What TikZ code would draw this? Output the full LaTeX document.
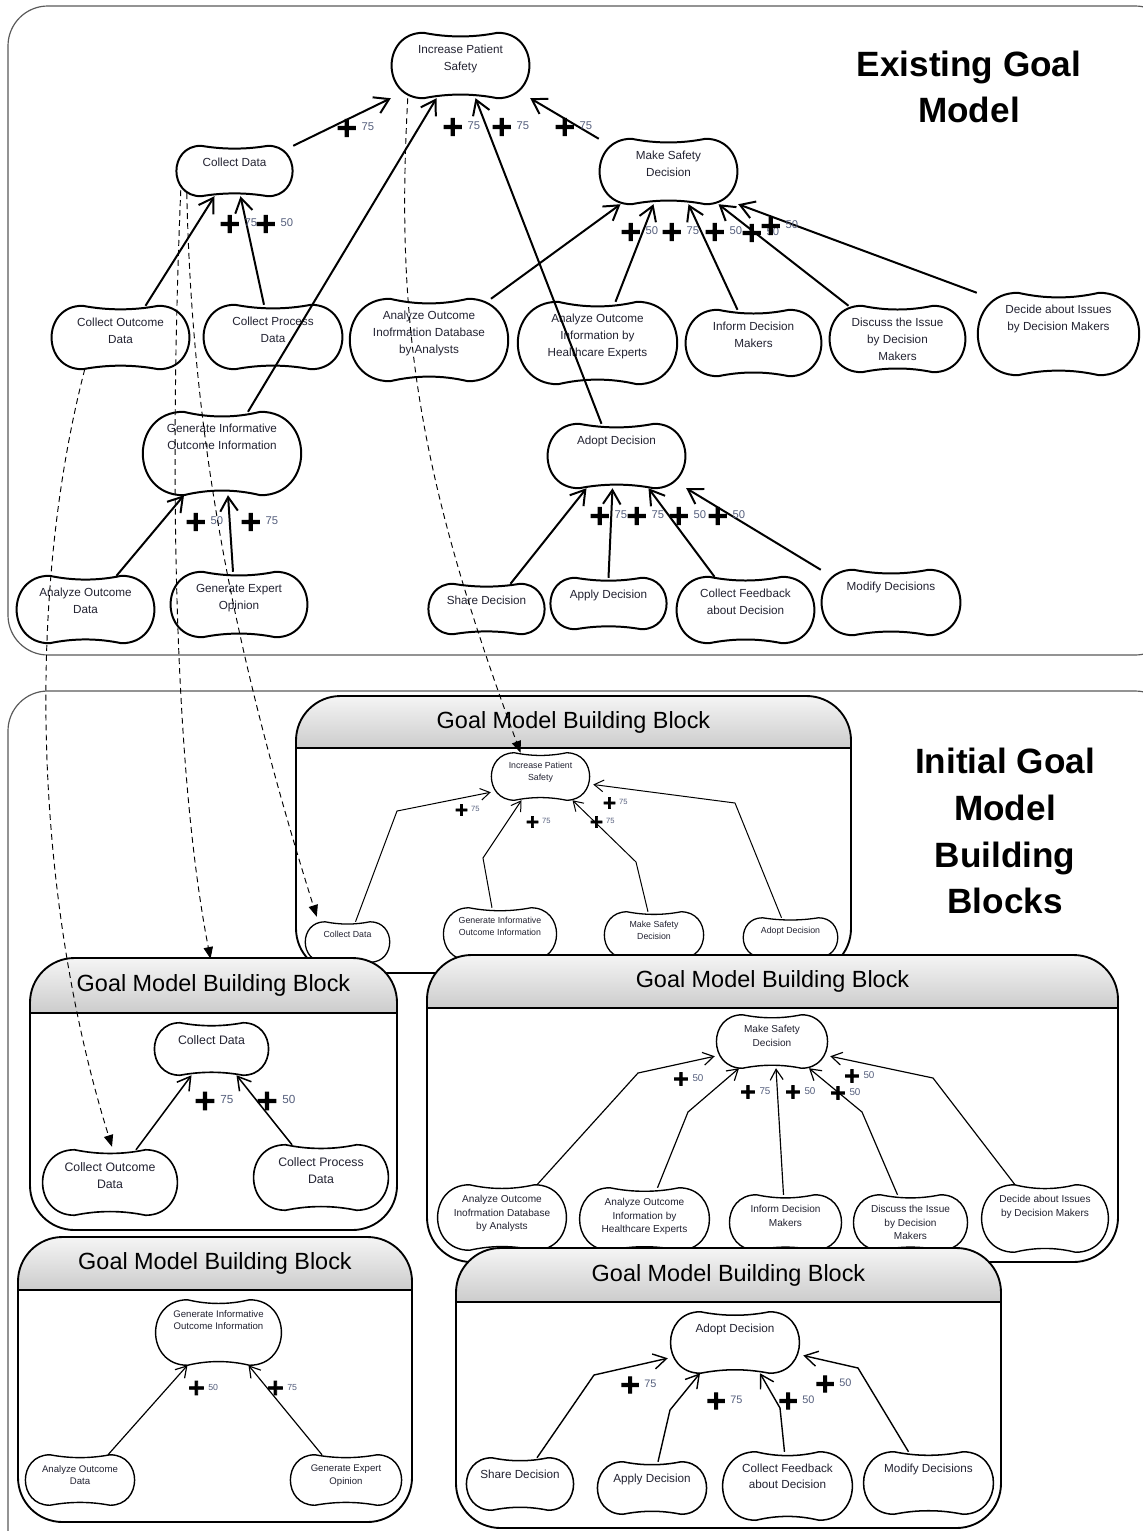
\documentclass[tikz,border=0pt]{standalone}
\usepackage{fontspec}
\setmainfont{Liberation Sans}
\newfontfamily\plusfont{DejaVu Sans}[FakeBold=4]
\usepackage{graphicx}
\usetikzlibrary{arrows.meta,calc}

\definecolor{goaltxt}{RGB}{35,35,50}
\definecolor{numtxt}{RGB}{85,95,125}
\definecolor{framegray}{RGB}{90,90,90}

\newlength\gpx
\setlength\gpx{0.03cm}

\def\plsscale{2.5}
\def\plsdrop{0.5em}
\newcommand\pls{\raisebox{-\plsdrop}{\scalebox{\plsscale}{\color{black}\plusfont\bfseries +}}\hspace{0.3em}}

% goal outline: stadium with slightly pinched top and bottom
\newcommand\goaloutline[1]{%
  \draw[goalline] let \p1=(#1.north west), \p2=(#1.south east),
      \n1={(\y1-\y2)/2}, \n2={(\x2-\x1-\y1+\y2)/3} in
    (\x1+\n1,\y1) .. controls (\x1-0.3*\n1,\y1) and (\x1-0.3*\n1,\y2) .. (\x1+\n1,\y2)
    .. controls (\x1+\n1+\n2,\y2+0.15*\n1) and (\x2-\n1-\n2,\y2+0.15*\n1) .. (\x2-\n1,\y2)
    .. controls (\x2+0.3*\n1,\y2) and (\x2+0.3*\n1,\y1) .. (\x2-\n1,\y1)
    .. controls (\x2-\n1-\n2,\y1-0.15*\n1) and (\x1+\n1+\n2,\y1-0.15*\n1) .. cycle;}

% building block frame: x1,y1,x2,y2,header line
\newcommand\gmblock[5]{%
  \begin{scope}
    \clip[rounded corners=38pt] (#1,#2) rectangle (#3,#4);
    \fill[white] (#1,#2) rectangle (#3,#4);
    \shade[top color=white!96!black, bottom color=white!80!black] (#1,#2) rectangle (#3,#5);
  \end{scope}
  \draw[blockline, rounded corners=38pt] (#1,#2) rectangle (#3,#4);
  \draw[blockline] (#1,#5) -- (#3,#5);}

\begin{document}
\begin{tikzpicture}[x=0.03cm, y=-0.03cm,
    goal/.style 2 args={inner sep=0pt, text=goaltxt, goaltext,
      execute at begin node={\begin{minipage}[c][#2\gpx][t]{#1\gpx}\centering\vspace*{1.05em}},
      execute at end node={\end{minipage}}},
    goaltext/.style={},
    goalline/.style={line width=1.5pt},
    link/.style={line width=1pt},
    contrib/.style={anchor=west, inner sep=0pt, text=numtxt, contribtext},
    contribtext/.style={},
    trace/.style={line width=0.8pt, dash pattern=on 5pt off 3.5pt, -{Triangle[length=10pt,width=8pt]}},
    blockline/.style={line width=1.6pt},
    blocktitle/.style={font=\fontsize{20}{24}\selectfont, minimum height=53\gpx, inner sep=0pt},
    modeltitle/.style={font=\fontsize{30}{40}\selectfont\bfseries, align=center},
    framebox/.style={draw=framegray, line width=1pt, rounded corners=34pt}
  ]
  \useasboundingbox (0,0) rectangle (1143,1531);
  \fill[white] (0,0) rectangle (1143,1531);

  % Existing goal model
  \draw[framebox] (8,6) rectangle (1175,655);
  \node[modeltitle] (existing) at (969,87) {Existing Goal\\Model};

  \begin{scope}[goaltext/.style={font=\fontsize{10}{14.5}\selectfont},
      goalline/.style={line width=1.7pt},
      link/.style={line width=1.7pt, -{Straight Barb[length=12pt,width=15pt]}},
      contribtext/.style={font=\fontsize{9.6}{11}\selectfont\def\plsscale{2.45}\def\plsdrop{0.55em}}]
    \node[goal={139}{65}] (ips) at (460.5,65.5) {Increase Patient\\Safety};
    \node[goal={117}{50}] (cd) at (234.5,171) {Collect Data};
    \node[goal={139}{65}] (msd) at (668.5,171.5) {Make Safety\\Decision};
    \node[goal={139}{63}] (cod) at (120.5,337.5) {Collect Outcome\\Data};
    \node[goal={140}{64}] (cpd) at (273,337) {Collect Process\\Data};
    \node[goal={160}{82}] (aoidb) at (429,340) {Analyze Outcome\\Inofrmation Database\\by Analysts};
    \node[goal={161}{82}] (aoihe) at (597.5,343) {Analyze Outcome\\Information by\\Healthcare Experts};
    \node[goal={137}{66}] (idm) at (753.5,343) {Inform Decision\\Makers};
    \node[goal={137}{66}] (dim) at (897.5,339) {Discuss the Issue\\by Decision\\Makers};
    \node[goal={163}{82}] (dai) at (1058.5,334) {Decide about Issues\\by Decision Makers};
    \node[goal={160}{83}] (gioi) at (222,453.5) {Generate Informative\\Outcome Information};
    \node[goal={139}{64}] (ad) at (616.5,456) {Adopt Decision};
    \node[goal={139}{67}] (aod) at (85.5,609.5) {Analyze Outcome\\Data};
    \node[goal={138}{65}] (geo) at (239,604.5) {Generate Expert\\Opinion};
    \node[goal={117}{50}] (sd) at (486.5,609) {Share Decision};
    \node[goal={117}{51}] (apd) at (608.5,603.5) {Apply Decision};
    \node[goal={139}{66}] (cfd) at (745.5,610) {Collect Feedback\\about Decision};
    \node[goal={140}{65}] (md) at (891,602.5) {Modify Decisions};
    \foreach \g in {ips,cd,msd,cod,cpd,aoidb,aoihe,idm,dim,dai,gioi,ad,aod,geo,sd,apd,cfd,md}
      {\goaloutline{\g}}

    \draw[link] (cd.north east) -- (ips.south west);
    \draw[link] ($(gioi.north)+(26,0)$) -- ($(ips.south)+(-24,0)$);
    \draw[link] ($(ad.north)+(-15,0)$) -- ($(ips.south)+(15,0)$);
    \draw[link] (msd.north west) -- (ips.south east);
    \draw[link] ($(aoidb.north)+(62,0)$) -- ($(msd.south)+(-48,0)$);
    \draw[link] ($(aoihe.north)+(18,0)$) -- ($(msd.south)+(-15,0)$);
    \draw[link] ($(idm.north)+(-16,0)$) -- ($(msd.south)+(20,0)$);
    \draw[link] ($(dim.north)+(-49,0)$) -- ($(msd.south)+(50,0)$);
    \draw[link] (dai.north west) -- (msd.south east);
    \draw[link] ($(cod.north)+(25,0)$) -- ($(cd.south)+(-20,0)$);
    \draw[link] ($(cpd.north)+(-9,0)$) -- ($(cd.south)+(6,0)$);
    \draw[link] ($(aod.north)+(31,0)$) -- ($(gioi.south)+(-38,0)$);
    \draw[link] ($(geo.north)+(-6,0)$) -- ($(gioi.south)+(6,0)$);
    \draw[link] ($(sd.north)+(24,0)$) -- ($(ad.south)+(-30,0)$);
    \draw[link] (apd.north) -- ($(ad.south)+(-4,0)$);
    \draw[link] ($(cfd.north)+(-31,0)$) -- ($(ad.south)+(32,0)$);
    \draw[link] (md.north west) -- (ad.south east);

    \node[contrib] (w1) at (335,128) {\pls 75};
    \node[contrib] (w2) at (441,127) {\pls 75};
    \node[contrib] (w3) at (490,127) {\pls 75};
    \node[contrib] (w4) at (553,127) {\pls 75};
    \node[contrib] (w5) at (218,224) {\pls 75};
    \node[contrib] (w6) at (254,224) {\pls 50};
    \node[contrib] (w7) at (619,232) {\pls 50};
    \node[contrib] (w8) at (660,232) {\pls 75};
    \node[contrib] (w9) at (703,232) {\pls 50};
    \node[contrib] (w10) at (740,233) {\pls 50};
    \node[contrib] (w11) at (759,226) {\pls 50};
    \node[contrib] (w12) at (184,522) {\pls 50};
    \node[contrib] (w13) at (239,522) {\pls 75};
    \node[contrib] (w14) at (588,516) {\pls 75};
    \node[contrib] (w15) at (625,516) {\pls 75};
    \node[contrib] (w16) at (667,516) {\pls 50};
    \node[contrib] (w17) at (706,516) {\pls 50};
  \end{scope}

  % Initial goal model building blocks
  \draw[framebox] (8,691) rectangle (1175,1590);
  \node[modeltitle] (initial) at (1005,831) {Initial Goal\\Model\\Building\\Blocks};

  % block 1
  \gmblock{296}{696}{851}{973}{748}
  \node[blocktitle] (b1head) at (573.5,722) {Goal Model Building Block};
  \begin{scope}[goaltext/.style={font=\fontsize{7.5}{10.2}\selectfont},
      goalline/.style={line width=1.1pt},
      link/.style={line width=0.85pt, -{Straight Barb[length=8pt,width=10pt]}},
      contribtext/.style={font=\fontsize{6.5}{7.5}\selectfont\def\plsscale{2.3}\def\plsdrop{0.5em}}]
    \node[goal={99}{47}] (ipsb) at (540.5,776.5) {Increase Patient\\Safety};
    \node[goal={85}{40}] (cdb) at (347.5,942) {Collect Data};
    \node[goal={114}{52}] (gioib) at (500,934) {Generate Informative\\Outcome Information};
    \node[goal={100}{46}] (msdb) at (654,935) {Make Safety\\Decision};
    \node[goal={95}{39}] (adb) at (790.5,937.5) {Adopt Decision};
    \foreach \g in {ipsb,cdb,gioib,msdb,adb} {\goaloutline{\g}}
    \draw[link] ($(cdb.north)+(8,0)$) -- (397,811) -- ($(ipsb.south west)+(0,-8)$);
    \draw[link] ($(gioib.north)+(-8,0)$) -- (483,858) -- ($(ipsb.south)+(-19,0)$);
    \draw[link] ($(msdb.north)+(-6,0)$) -- (636,862) -- ($(ipsb.south)+(32,0)$);
    \draw[link] ($(adb.north)+(-9,0)$) -- (735,803) -- ($(ipsb.east)+(3,8)$);
    \node[contrib] (v1) at (454,810) {\pls 75};
    \node[contrib] (v2) at (525,822) {\pls 75};
    \node[contrib] (v3) at (589,822) {\pls 75};
    \node[contrib] (v4) at (602,803) {\pls 75};
  \end{scope}

  % block 2
  \gmblock{30}{958}{397}{1230}{1013}
  \node[blocktitle] (b2head) at (213.5,985.5) {Goal Model Building Block};
  \begin{scope}[goaltext/.style={font=\fontsize{10.5}{14.5}\selectfont},
      goalline/.style={line width=1.4pt},
      link/.style={line width=1.3pt, -{Straight Barb[length=11pt,width=13pt]}},
      contribtext/.style={font=\fontsize{10}{12}\selectfont\def\plsscale{2.4}\def\plsdrop{0.5em}}]
    \node[goal={115}{52}] (cd2) at (211.5,1049) {Collect Data};
    \node[goal={136}{65}] (cod2) at (110,1182.5) {Collect Outcome\\Data};
    \node[goal={136}{65}] (cpd2) at (321,1177.5) {Collect Process\\Data};
    \foreach \g in {cd2,cod2,cpd2} {\goaloutline{\g}}
    \draw[link] ($(cod2.north)+(26,0)$) -- ($(cd2.south)+(-20,0)$);
    \draw[link] ($(cpd2.north)+(-29,0)$) -- ($(cd2.south)+(25,0)$);
    \node[contrib] (u1) at (193,1101) {\pls 75};
    \node[contrib] (u2) at (255,1101) {\pls 50};
  \end{scope}

  % block 3
  \gmblock{427}{955}{1118}{1262}{1008}
  \node[blocktitle] (b3head) at (772.5,981.5) {Goal Model Building Block};
  \begin{scope}[goaltext/.style={font=\fontsize{8.6}{11.5}\selectfont},
      goalline/.style={line width=1.2pt},
      link/.style={line width=1pt, -{Straight Barb[length=9pt,width=11pt]}},
      contribtext/.style={font=\fontsize{8.4}{10}\selectfont\def\plsscale{2.1}\def\plsdrop{0.4em}}]
    \node[goal={112}{53}] (msd3) at (772,1041.5) {Make Safety\\Decision};
    \node[goal={130}{65}] (aoidb3) at (502,1217.5) {Analyze Outcome\\Inofrmation Database\\by Analysts};
    \node[goal={131}{62}] (aoihe3) at (644.5,1219) {Analyze Outcome\\Information by\\Healthcare Experts};
    \node[goal={113}{55}] (idm3) at (785.5,1222.5) {Inform Decision\\Makers};
    \node[goal={115}{55}] (dim3) at (910.5,1222.5) {Discuss the Issue\\by Decision\\Makers};
    \node[goal={128}{67}] (dai3) at (1045,1218.5) {Decide about Issues\\by Decision Makers};
    \foreach \g in {msd3,aoidb3,aoihe3,idm3,dim3,dai3} {\goaloutline{\g}}
    \draw[link] ($(aoidb3.north)+(35,0)$) -- (638,1073) -- ($(msd3.south west)+(-1,-12)$);
    \draw[link] ($(aoihe3.north)+(13,0)$) -- (688,1112) -- ($(msd3.south)+(-33,0)$);
    \draw[link] ($(idm3.north)+(-2,0)$) -- ($(msd3.south)+(4,0)$);
    \draw[link] ($(dim3.north)+(-13,0)$) -- (862,1112) -- ($(msd3.south)+(37,0)$);
    \draw[link] ($(dai3.north)+(-30,0)$) -- (933,1078) -- ($(msd3.south east)+(2,-12)$);
    \node[contrib] (t1) at (672,1079) {\pls 50};
    \node[contrib] (t2) at (739,1092) {\pls 75};
    \node[contrib] (t3) at (784,1092) {\pls 50};
    \node[contrib] (t4) at (829,1093) {\pls 50};
    \node[contrib] (t5) at (843,1076) {\pls 50};
  \end{scope}

  % block 4
  \gmblock{18}{1237}{412}{1522}{1290}
  \node[blocktitle] (b4head) at (215,1263.5) {Goal Model Building Block};
  \begin{scope}[goaltext/.style={font=\fontsize{8.2}{11}\selectfont},
      goalline/.style={line width=1.2pt},
      link/.style={line width=1pt, -{Straight Barb[length=9pt,width=11pt]}},
      contribtext/.style={font=\fontsize{7.5}{9}\selectfont\def\plsscale{2.5}\def\plsdrop{0.55em}}]
    \node[goal={127}{65}] (gioi4) at (218.5,1332.5) {Generate Informative\\Outcome Information};
    \node[goal={110}{50}] (aod4) at (80,1480) {Analyze Outcome\\Data};
    \node[goal={112}{50}] (geo4) at (346,1480) {Generate Expert\\Opinion};
    \foreach \g in {gioi4,aod4,geo4} {\goaloutline{\g}}
    \draw[link] ($(aod4.north)+(28,0)$) -- ($(gioi4.south)+(-31,0)$);
    \draw[link] ($(geo4.north)+(-24,0)$) -- ($(gioi4.south)+(30,0)$);
    \node[contrib] (s1) at (187,1388) {\pls 50};
    \node[contrib] (s2) at (266,1388) {\pls 75};
  \end{scope}

  % block 5
  \gmblock{456}{1248}{1001}{1528}{1302}
  \node[blocktitle] (b5head) at (728.5,1275) {Goal Model Building Block};
  \begin{scope}[goaltext/.style={font=\fontsize{10}{13.7}\selectfont},
      goalline/.style={line width=1.3pt},
      link/.style={line width=1.2pt, -{Straight Barb[length=11pt,width=13pt]}},
      contribtext/.style={font=\fontsize{9.3}{11}\selectfont\def\plsscale{2.4}\def\plsdrop{0.5em}}]
    \node[goal={130}{61}] (ad5) at (735,1342.5) {Adopt Decision};
    \node[goal={108}{52}] (sd5) at (520,1484) {Share Decision};
    \node[goal={110}{52}] (apd5) at (652,1488) {Apply Decision};
    \node[goal={131}{68}] (cfd5) at (787.5,1486) {Collect Feedback\\about Decision};
    \node[goal={131}{62}] (md5) at (928.5,1483) {Modify Decisions};
    \foreach \g in {ad5,sd5,apd5,cfd5,md5} {\goaloutline{\g}}
    \draw[link] ($(sd5.north)+(17,0)$) -- (594,1375) -- ($(ad5.south west)+(-2,-15)$);
    \draw[link] ($(apd5.north)+(6,0)$) -- (670,1410) -- ($(ad5.south)+(-35,0)$);
    \draw[link] ($(cfd5.north)+(-3,0)$) -- (780,1408) -- ($(ad5.south)+(25,0)$);
    \draw[link] ($(md5.north)+(-20,0)$) -- (858,1368) -- ($(ad5.east)+(3,13)$);
    \node[contrib] (r1) at (619,1385) {\pls 75};
    \node[contrib] (r2) at (705,1401) {\pls 75};
    \node[contrib] (r3) at (777,1401) {\pls 50};
    \node[contrib] (r4) at (814,1384) {\pls 50};
  \end{scope}

  % traces from the existing model to the blocks
  \draw[trace] ($(ips.south west)+(17,0)$) .. controls (395,330) and (420,480) .. ($(ipsb.north)+(-20,0)$);
  \draw[trace] ($(cd.south west)+(5,-6)$) .. controls (170,450) and (172,760) .. ($(b2head.north)+(-3,0)$);
  \draw[trace] ($(cd.south west)+(11,-3)$) .. controls (192,430) and (230,640) .. ($(cdb.north west)+(12,-5)$);
  \draw[trace] ($(cod.south west)+(34,0)$) .. controls (25,600) and (35,900) .. ($(cod2.north)+(2,-3)$);
\end{tikzpicture}
\end{document}
